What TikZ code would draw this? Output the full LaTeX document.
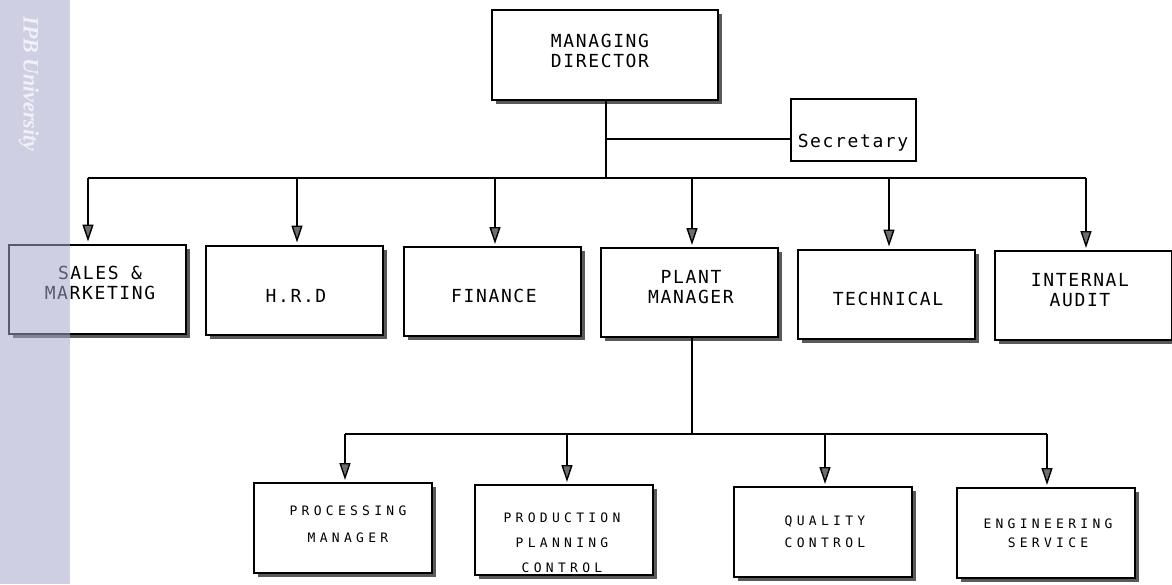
\documentclass[tikz,border=0pt]{standalone}
\usepackage{fontspec}
\setmainfont{DejaVu Sans Mono}
\newfontfamily\bigmono[LetterSpace=9]{DejaVu Sans Mono}
\newfontfamily\smallmono[LetterSpace=33]{DejaVu Sans Mono}
\newfontfamily\markfont{Liberation Serif}
\usetikzlibrary{arrows.meta,shadows,calc}
\definecolor{bandcol}{RGB}{167,167,204}
\definecolor{tipfill}{RGB}{110,110,110}

\begin{document}
\begin{tikzpicture}[x=1pt,y=-1pt,
  unit/.style={draw, line width=2pt, fill=white, inner sep=0pt,
    drop shadow={shadow xshift=4pt, shadow yshift=-4pt, fill=black!65, opacity=1}},
  topunit/.style={unit, minimum width=226pt, minimum height=90pt},
  midunit/.style={unit, minimum width=177pt, minimum height=89pt},
  lowunit/.style={unit, minimum width=178pt, minimum height=90pt},
  secunit/.style={draw, line width=1.3pt, fill=white, minimum width=125pt, minimum height=62pt, inner sep=0pt},
  biglbl/.style={font=\bigmono\fontsize{18}{20}\selectfont, align=center, inner sep=0pt},
  smalllbl/.style={font=\smallmono\fontsize{13}{#1}\selectfont, align=center, inner sep=0pt},
  link/.style={line width=1.4pt},
  arr/.style={line width=1.4pt, -{Triangle[width=11pt,length=17pt,fill=tipfill]}, shorten >=2pt}]
\useasboundingbox (0,0) rectangle (1172,584);

% top level
\node[topunit] (md) at (605,55) {};
\node[biglbl] (mdlbl) at (600,50.5) {MANAGING\\DIRECTOR};
\node[secunit] (sec) at (853.5,130) {};
\node[biglbl] (seclbl) at (853,142.5) {Secretary};

% departments
\node[midunit] (sales)   at (97.5,289) {};
\node[midunit] (hrd)     at (294,290) {};
\node[midunit] (finance) at (492.5,291.5) {};
\node[midunit] (plant)   at (689,292.5) {};
\node[midunit] (tech)    at (886.5,294) {};
\node[midunit] (audit)   at (1083,295.5) {};
\node[biglbl] at (100,282.5) {SALES \&\\MARKETING};
\node[biglbl] at (296,295.5) {H.R.D};
\node[biglbl] at (494,296) {FINANCE};
\node[biglbl] at (691,287) {PLANT\\MANAGER};
\node[biglbl] at (888,299) {TECHNICAL};
\node[biglbl] at (1080,290.5) {INTERNAL\\AUDIT};

% plant sections
\node[lowunit] (proc) at (342.5,528) {};
\node[lowunit] (ppc)  at (563.5,530) {};
\node[lowunit] (qc)   at (823,532) {};
\node[lowunit] (eng)  at (1046,533) {};
\node[smalllbl=27] at (348,524) {PROCESSING\\MANAGER};
\node[smalllbl=25] at (562,543) {PRODUCTION\\PLANNING\\CONTROL};
\node[smalllbl=22] at (825,532) {QUALITY\\CONTROL};
\node[smalllbl=19] at (1048,533) {ENGINEERING\\SERVICE};

% director to departments
\coordinate (mdb) at (606,178);
\coordinate (sj)  at (606,139);
\draw[link] (md.south -| mdb) -- (mdb);
\draw[link] (sj) -- (sec.west |- sj);
\coordinate (d1) at (88,178);
\coordinate (d2) at (297,178);
\coordinate (d3) at (495,178);
\coordinate (d4) at (692,178);
\coordinate (d5) at (889,178);
\coordinate (d6) at (1086,178);
\draw[link] (d1) -- (d6);
\draw[arr] (d1) -- (d1 |- sales.north);
\draw[arr] (d2) -- (d2 |- hrd.north);
\draw[arr] (d3) -- (d3 |- finance.north);
\draw[arr] (d4) -- (d4 |- plant.north);
\draw[arr] (d5) -- (d5 |- tech.north);
\draw[arr] (d6) -- (d6 |- audit.north);

% plant manager to sections
\coordinate (pb) at (692,434);
\draw[link] (plant.south -| pb) -- (pb);
\coordinate (e1) at (345,434);
\coordinate (e2) at (567,434);
\coordinate (e3) at (825,434);
\coordinate (e4) at (1047,434);
\draw[link] (e1) -- (e4);
\draw[arr] (e1) -- (e1 |- proc.north);
\draw[arr] (e2) -- (e2 |- ppc.north);
\draw[arr] (e3) -- (e3 |- qc.north);
\draw[arr] (e4) -- (e4 |- eng.north);

% page margin band with watermark
\fill[bandcol, opacity=0.54] (0,0) rectangle (70,584);
\node[rotate=-90, text=white, opacity=0.7, inner sep=0pt,
  font=\markfont\bfseries\itshape\fontsize{22}{22}\selectfont] (mark) at (29,84) {IPB University};
\end{tikzpicture}
\end{document}
